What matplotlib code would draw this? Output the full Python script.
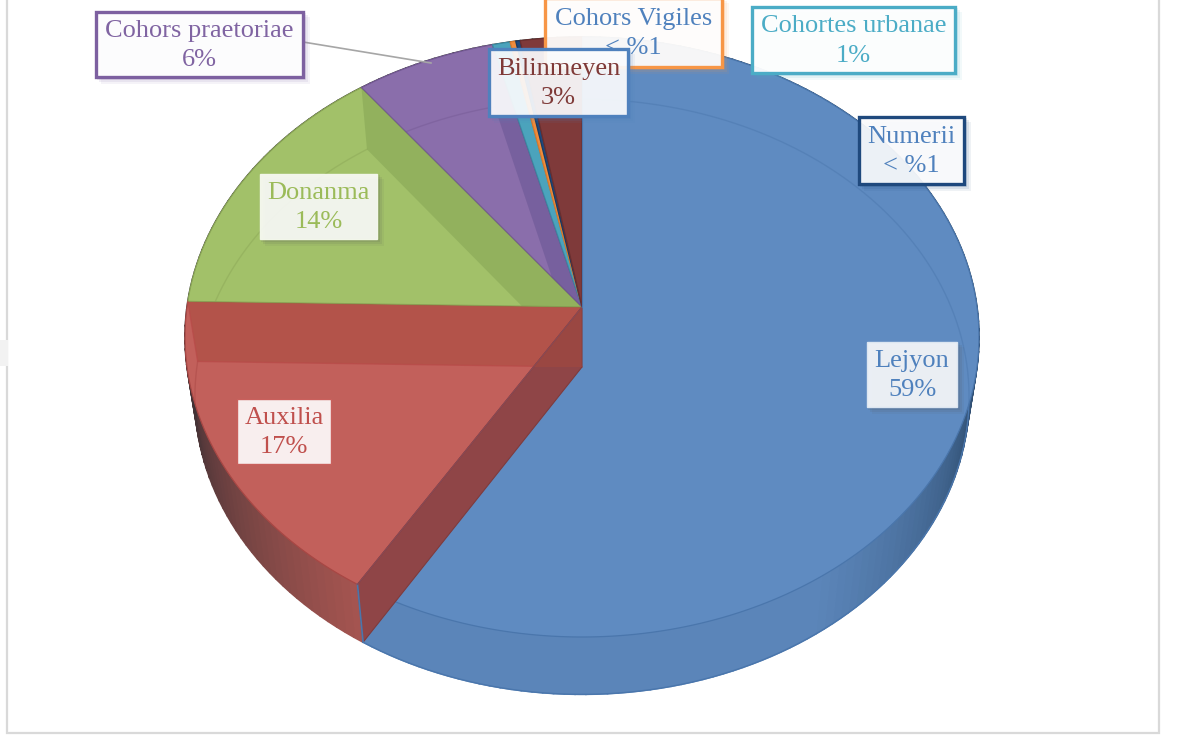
import numpy as np
import matplotlib
matplotlib.use('Agg')
import matplotlib.pyplot as plt
from matplotlib.colors import to_rgb
from matplotlib.patches import Polygon, Rectangle

# dilimler, saat yonunde tepeden baslayarak
names = ['Lejyon', 'Auxilia', 'Donanma', 'Cohors praetoriae', 'Cohortes urbanae',
         'Cohors Vigiles', 'Numerii', 'Bilinmeyen']
shares = [58.7, 16.6, 14.4, 6.3, 0.8, 0.25, 0.2, 2.75]
labels = ['59%', '17%', '14%', '6%', '1%', '< %1', '< %1', '3%']
colors = ['#5F8BC1', '#C2605B', '#A2C169', '#8A6EAB', '#4BA3BC', '#F08C3C', '#1F497D', '#7F3A3A']
edges = ['#4A76AC', '#A84744', '#8AA556', '#745994', '#3A8CA3', '#D87A2C', '#173A64', '#6A2E2E']
text_cols = ['#4F81BD', '#C0504D', '#9BBB59', '#8064A2', '#4BACC6', '#4F81BD', '#4F81BD', '#7F3A38']

cx, cy = 582, 307
rx, ry, k = 395, 297, 0.1
drop = 60


def top_pts(t):
    u, v = np.sin(t), np.cos(t)
    w = 1 + k * v
    return cx + rx * u / w, cy - ry * v / w


def bot_pts(t):
    u, v = np.sin(t), np.cos(t)
    w = 1 + k * v
    return cx + 0.975 * rx * u / w, cy + drop - 0.992 * ry * v / w


def sector(a, b):
    t = np.linspace(a, b, max(3, int((b - a) * 90)))
    x, y = top_pts(t)
    return np.vstack([[(cx, cy)], np.column_stack([x, y])])


plt.rcParams['font.family'] = ['Liberation Serif', 'DejaVu Serif']
fig = plt.figure(figsize=(11.79, 7.36), dpi=100)
ax = fig.add_axes([0, 0, 1, 1])
ax.set_xlim(0, 1179)
ax.set_ylim(736, 0)
ax.axis('off')

# kart cercevesi
ax.add_patch(Rectangle((7, -5), 1152, 738, fc='white', ec='#D9D9D9', lw=1.6, zorder=0))
ax.add_patch(Rectangle((-2, 340), 10, 26, fc='#F2F2F2', ec='none', zorder=0))

bounds = np.concatenate([[0], np.cumsum(shares)]) / sum(shares) * 2 * np.pi
shade_dark = {0: '#24405F', 1: '#3A3033'}

# dis duvar, parca parca golgeli
for i, col in enumerate(colors):
    a, b = bounds[i], bounds[i + 1]
    ts = np.linspace(a, b, max(2, int((b - a) * 40)))
    base = np.array(to_rgb(col)) * (0.96 if i == 0 else 0.92)
    for t0, t1 in zip(ts[:-1], ts[1:]):
        xt, yt = top_pts(np.array([t0, t1]))
        xb, yb = bot_pts(np.array([t1, t0]))
        tm = (t0 + t1) / 2
        # kenara yaklastikca koyulasir
        if i == 0:
            f = np.clip((tm - np.radians(97)) / np.radians(50), 0, 1) ** 0.8
        else:
            f = np.clip((np.radians(265) - tm) / np.radians(60), 0, 1)
        dark = np.array(to_rgb(shade_dark.get(i, '#333333')))
        c = dark + (base - dark) * f
        ax.fill(np.r_[xt, xb], np.r_[yt, yb], color=c, lw=1.2, zorder=1)

# alt kenar
tt = np.linspace(np.radians(95), bounds[1], 200)
ax.plot(*bot_pts(tt), color='#4A76AC', lw=1, zorder=1.5)

# ust yuzler
top_patches = []
for i, col in enumerate(colors):
    p = Polygon(sector(bounds[i], bounds[i + 1]), closed=True, fc=col, ec=edges[i], lw=0.9, zorder=2)
    ax.add_patch(p)
    top_patches.append(p)

# icten gorunen duvarlar
walls = [(1, 2, '#A84A3C', 0.55), (2, 3, '#76964A', 0.36), (3, 4, '#5F4E8C', 0.42)]
for s, idx, c, al in walls:
    a = bounds[idx]
    xt, yt = top_pts(np.array([a]))
    xb, yb = bot_pts(np.array([a]))
    pts = [(cx, cy), (xt[0], yt[0]), (xb[0], yb[0]), (cx, cy + drop)]
    w = Polygon(pts, closed=True, fc=c, ec='none', alpha=al, zorder=3)
    ax.add_patch(w)
    w.set_clip_path(top_patches[s])

# alt yuzun yayi, ustten soluk gorunur
for i, col in enumerate(colors):
    t = np.linspace(bounds[i], bounds[i + 1], 150)
    ln, = ax.plot(*bot_pts(t), color=edges[i], lw=1, alpha=0.45, zorder=3)
    ln.set_clip_path(top_patches[i])

# kirmizi bandin alt siniri
a = np.array([bounds[2]])
xa, ya = top_pts(a)
xb, yb = bot_pts(a)
ax.plot([xa[0], xb[0], cx], [ya[0], yb[0], cy + drop], color='#B84A48', lw=1, alpha=0.7, zorder=3.2)

# lejyon-auxilia ic duvari, mavinin ustunde kalir
a = np.array([bounds[1]])
xa, ya = top_pts(a)
xb, yb = bot_pts(a)
ax.add_patch(Polygon([(cx, cy), (xa[0], ya[0]), (xb[0], yb[0]), (cx, cy + drop)], closed=True,
                     fc='#8F4547', ec='#7E3B3D', lw=0.8, zorder=3.5))
# bant duvarin ustunden de gecer
band = Polygon([(cx, cy), (400, cy), (400, cy + drop), (cx, cy + drop)], closed=True,
               fc='#A84A3C', ec='none', alpha=0.45, zorder=3.55)
ax.add_patch(band)
band.set_clip_path(Polygon([(cx, cy), (xa[0], ya[0]), (xb[0], yb[0]), (cx, cy + drop)],
                           closed=True, transform=ax.transData))
ax.plot([xa[0], xb[0]], [ya[0], yb[0]], color='#4A76AC', lw=1.2, zorder=3.6)
ax.plot([cx, xa[0]], [cy, ya[0]], color='#8A4A55', lw=0.8, zorder=3.6)
ax.plot([cx, cx], [37, cy], color='#4A76AC', lw=0.8, zorder=3.6)

# etiket kutulari (x0, y0, x1, y1, kenar, saydamlik)
boxes = {
    'Lejyon': (867, 342, 957, 407, '#DCE6F1', 0.88),
    'Auxilia': (237, 399, 331, 464, '#C9605C', 0.9),
    'Donanma': (260, 174, 377, 239, '#F2F6EA', 0.88),
    'Cohors praetoriae': (96, 12, 303, 77, '#7D60A0', 0.94),
    'Cohortes urbanae': (752, 7, 955, 73, '#4BACC6', 0.94),
    'Cohors Vigiles': (545, -2, 722, 67, '#F79646', 0.93),
    'Numerii': (859, 117, 964, 184, '#1F497D', 0.9),
    'Bilinmeyen': (489, 49, 628, 116, '#4F81BD', 0.9),
}
ax.plot([303, 431], [42, 63], color='#A6A6A6', lw=1.2, zorder=4)

order = ['Lejyon', 'Auxilia', 'Donanma', 'Cohors praetoriae', 'Cohortes urbanae', 'Numerii',
         'Cohors Vigiles', 'Bilinmeyen']
for z, name in enumerate(order):
    x0, y0, x1, y1, ec, al = boxes[name]
    i = names.index(name)
    zz = 5 + z
    shadow = '#555555' if name in ('Donanma', 'Lejyon') else ec
    for off, sa in [(7, 0.07), (5, 0.1), (3, 0.13)]:
        ax.add_patch(Rectangle((x0 + off - 2, y0 + off - 2), x1 - x0 + 2, y1 - y0 + 2, fc=shadow,
                               ec='none', alpha=sa, zorder=zz))
    lw = 2.4 if name not in ('Lejyon', 'Auxilia', 'Donanma') else 1.0
    ax.add_patch(Rectangle((x0, y0), x1 - x0, y1 - y0, fc=(1, 1, 1, al), ec=ec, lw=lw, zorder=zz + 0.1))
    ax.text((x0 + x1) / 2, (y0 + y1) / 2 + 1, name + '\n' + labels[i], color=text_cols[i], fontsize=19,
            ha='center', va='center', linespacing=1.42, zorder=zz + 0.2)

fig.savefig('out.png', dpi=100)
